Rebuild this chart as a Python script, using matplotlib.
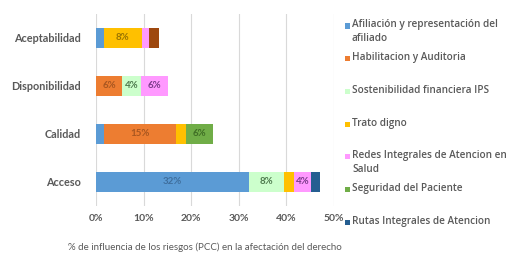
import numpy as np
import matplotlib
matplotlib.use("Agg")
import matplotlib.pyplot as plt
from matplotlib.patches import Rectangle

plt.rcParams['font.family'] = ['Lato', 'DejaVu Sans']

# categories bottom -> top
categories = ["Acceso", "Calidad", "Disponibilidad", "Aceptabilidad"]

series_names = [
    "Afiliación y representación del\nafiliado",
    "Habilitacion y Auditoria",
    "Sostenibilidad financiera IPS",
    "Trato digno",
    "Redes Integrales de Atencion en\nSalud",
    "Seguridad del Paciente",
    "Rutas Integrales de Atencion",
    None,  # extra series, not shown in legend
]

afiliacion   = [32.1, 1.7, 0.0, 1.7]
habilitacion = [0.0, 15.1, 5.5, 0.0]
sostenib     = [7.5, 0.0, 3.9, 0.0]
trato        = [2.1, 2.1, 0.0, 7.9]
redes        = [3.5, 0.0, 5.8, 1.6]
seguridad    = [0.0, 5.6, 0.0, 0.0]
rutas        = [1.9, 0.0, 0.0, 0.0]
otro         = [0.0, 0.0, 0.0, 2.1]

values = [afiliacion, habilitacion, sostenib, trato, redes, seguridad, rutas, otro]

colors = ["#5B9BD5", "#ED7D31", "#CCFFCC", "#FFC000",
          "#FF99FF", "#70AD47", "#255E91", "#9E480E"]
label_colors = ["#3F6F9E", "#A85620", "#4E7A4E", "#9A7400",
                "#7A3A8A", "#3F6E25", "#FFFFFF", "#FFFFFF"]

fig = plt.figure(figsize=(5.22, 2.61), dpi=100)
ax = fig.add_axes([96/522, 55/261, 238/522, 192/261])

y = np.arange(len(categories))
left = np.zeros(len(categories))
for vals, col, lcol in zip(values, colors, label_colors):
    vals = np.array(vals)
    ax.barh(y, vals, left=left, height=0.4, color=col, zorder=3)
    for yi, (l, v) in enumerate(zip(left, vals)):
        if v >= 3.4:
            ax.text(l + v / 2, yi, f"{v:.0f}%", ha="center", va="center",
                    fontsize=7, fontweight="bold", color=lcol, zorder=4)
    left += vals

ax.set_xlim(0, 50)
ax.set_ylim(-0.5, 3.5)
ax.set_xticks(np.arange(0, 51, 10))
ax.set_xticklabels([f"{t}%" for t in range(0, 51, 10)])
ax.set_yticks(y)
ax.set_yticklabels(categories)
ax.grid(axis="x", color="#D9D9D9", linewidth=0.8, zorder=0)
for s in ax.spines.values():
    s.set_visible(False)
ax.tick_params(length=0)
ax.tick_params(axis="x", pad=6, labelsize=7.5, labelcolor="#595959")
ax.tick_params(axis="y", pad=11, labelsize=7.8, labelcolor="#595959")
for t in ax.get_xticklabels() + ax.get_yticklabels():
    t.set_fontweight("bold")
ax.set_xlabel("% de influencia de los riesgos (PCC) en la afectación del derecho",
              fontsize=7, color="#595959")
ax.xaxis.set_label_coords(0.458, -0.19)

# legend drawn manually (marker aligned with first line of wrapped labels)
W, H = 522, 261
for i, (name, col) in enumerate(zip(series_names, colors)):
    if name is None:
        continue
    yc = 26 + i * 32.7
    fig.patches.append(Rectangle((345 / W, 1 - (yc + 2.5) / H), 5 / W, 5 / H,
                                 transform=fig.transFigure, facecolor=col,
                                 edgecolor="none"))
    fig.text(352 / W, 1 - (yc - 6.5) / H, name, family=['Open Sans', 'DejaVu Sans'],
             fontsize=7.2, fontweight="semibold",
             color="#595959", va="top", ha="left", linespacing=1.35)

fig.savefig("out.png", dpi=100)
